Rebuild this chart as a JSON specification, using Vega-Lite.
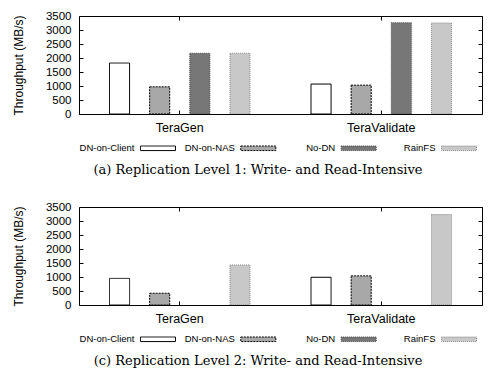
{
  "$schema": "https://vega.github.io/schema/vega-lite/v6.json",
  "padding": {"left": 11, "top": 9, "right": 5, "bottom": 0},
  "background": "white",
  "config": {
    "font": "Liberation Sans",
    "view": {"stroke": "black", "strokeWidth": 1},
    "axis": {"grid": false, "domain": false, "tickColor": "black", "labelColor": "black", "titleColor": "black", "labelFont": "Liberation Sans", "titleFont": "Liberation Sans", "titleFontWeight": "normal"}
  },
  "datasets": {
    "bars": [
      {"panel": "a", "workload": "TeraGen", "series": "DN-on-Client", "value": 1820},
      {"panel": "a", "workload": "TeraGen", "series": "DN-on-NAS", "value": 970},
      {"panel": "a", "workload": "TeraGen", "series": "No-DN", "value": 2170},
      {"panel": "a", "workload": "TeraGen", "series": "RainFS", "value": 2170},
      {"panel": "a", "workload": "TeraValidate", "series": "DN-on-Client", "value": 1070},
      {"panel": "a", "workload": "TeraValidate", "series": "DN-on-NAS", "value": 1030},
      {"panel": "a", "workload": "TeraValidate", "series": "No-DN", "value": 3260},
      {"panel": "a", "workload": "TeraValidate", "series": "RainFS", "value": 3250},
      {"panel": "c", "workload": "TeraGen", "series": "DN-on-Client", "value": 950},
      {"panel": "c", "workload": "TeraGen", "series": "DN-on-NAS", "value": 420},
      {"panel": "c", "workload": "TeraGen", "series": "RainFS", "value": 1430},
      {"panel": "c", "workload": "TeraValidate", "series": "DN-on-Client", "value": 990},
      {"panel": "c", "workload": "TeraValidate", "series": "DN-on-NAS", "value": 1040},
      {"panel": "c", "workload": "TeraValidate", "series": "RainFS", "value": 3230}
    ],
    "legend": [
      {"series": "DN-on-Client"},
      {"series": "DN-on-NAS"},
      {"series": "No-DN"},
      {"series": "RainFS"}
    ],
    "captions": [
      {"panel": "a", "text": "(a) Replication Level 1: Write- and Read-Intensive"},
      {"panel": "c", "text": "(c) Replication Level 2: Write- and Read-Intensive"}
    ]
  },
  "spacing": 24.5,
  "bounds": "flush",
  "resolve": {"scale": {"x": "independent", "y": "independent"}},
  "vconcat": [
    {
      "width": 403, "height": 98,
      "data": {"name": "bars"},
      "transform": [{"filter": "datum.panel === 'a'"}],
      "layer": [
        {
          "mark": {"type": "bar", "strokeWidth": 1, "clip": true},
          "encoding": {
            "x": {"field": "workload", "type": "nominal", "sort": ["TeraGen", "TeraValidate"], "scale": {"paddingInner": 0, "paddingOuter": 0}, "axis": {"orient": "bottom", "title": null, "labelAngle": 0, "labelFontSize": 12.5, "tickSize": -4, "labelPadding": 11}},
            "xOffset": {"field": "series", "type": "nominal", "scale": {"domain": ["DN-on-Client", "DN-on-NAS", "No-DN", "RainFS"], "paddingInner": 0.5, "paddingOuter": 0.76}},
            "y": {"field": "value", "type": "quantitative", "scale": {"domain": [0, 3500], "nice": false}, "axis": {"values": [0, 500, 1000, 1500, 2000, 2500, 3000, 3500], "format": "d", "title": "Throughput (MB/s)", "titleFontSize": 12, "labelFontSize": 11.5, "tickSize": -4, "labelPadding": 12, "titlePadding": 20.4}},
            "fill": {"field": "series", "type": "nominal", "scale": {"domain": ["DN-on-Client", "DN-on-NAS", "No-DN", "RainFS"], "range": ["#ffffff", "#a8a8a8", "#777777", "#c8c8c8"]}, "legend": null},
            "stroke": {"field": "series", "type": "nominal", "scale": {"domain": ["DN-on-Client", "DN-on-NAS", "No-DN", "RainFS"], "range": ["#000000", "#000000", "#444444", "#888888"]}, "legend": null},
            "strokeDash": {"field": "series", "type": "nominal", "scale": {"domain": ["DN-on-Client", "DN-on-NAS", "No-DN", "RainFS"], "range": [[1, 0], [2, 1], [1, 1], [1, 1]]}, "legend": null}
          }
        },
        {
          "mark": {"type": "bar", "opacity": 0, "clip": true},
          "encoding": {
            "x": {"field": "workload", "type": "nominal", "sort": ["TeraGen", "TeraValidate"], "axis": {"orient": "top", "labels": false, "title": null, "tickSize": -4}},
            "y": {"field": "value", "type": "quantitative", "axis": {"orient": "right", "labels": false, "title": null, "tickSize": -4, "values": [0, 500, 1000, 1500, 2000, 2500, 3000, 3500]}}
          }
        }
      ],
      "resolve": {"axis": {"x": "independent", "y": "independent"}}
    },
    {
      "width": 403, "height": 44,
      "view": {"stroke": null},
      "layer": [
        {
          "data": {"name": "legend"},
          "mark": {"type": "point", "shape": "M0,-0.13H2V0.13H0Z", "size": 1225, "filled": true, "opacity": 1, "strokeWidth": 1, "clip": true},
          "encoding": {
            "x": {"field": "series", "type": "nominal", "sort": ["DN-on-Client", "DN-on-NAS", "No-DN", "RainFS"], "scale": {"type": "point", "padding": 0.508, "align": 0.603}, "axis": null},
            "y": {"datum": "legend", "type": "nominal", "scale": {"type": "point", "domain": ["legend", "caption"], "padding": 0.5, "align": 0.445}, "axis": null},
            "fill": {"field": "series", "type": "nominal", "scale": {"domain": ["DN-on-Client", "DN-on-NAS", "No-DN", "RainFS"], "range": ["#ffffff", "#a8a8a8", "#777777", "#c8c8c8"]}, "legend": null},
            "stroke": {"field": "series", "type": "nominal", "scale": {"domain": ["DN-on-Client", "DN-on-NAS", "No-DN", "RainFS"], "range": ["#000000", "#000000", "#444444", "#888888"]}, "legend": null},
            "strokeDash": {"field": "series", "type": "nominal", "scale": {"domain": ["DN-on-Client", "DN-on-NAS", "No-DN", "RainFS"], "range": [[1, 0], [2, 1], [1, 1], [1, 1]]}, "legend": null}
          }
        },
        {
          "data": {"name": "legend"},
          "mark": {"type": "text", "align": "right", "baseline": "middle", "dx": -6, "fontSize": 9.5, "color": "black", "clip": true},
          "encoding": {
            "x": {"field": "series", "type": "nominal", "sort": ["DN-on-Client", "DN-on-NAS", "No-DN", "RainFS"], "axis": null},
            "y": {"datum": "legend", "type": "nominal", "axis": null},
            "text": {"field": "series"}
          }
        },
        {
          "data": {"name": "captions"},
          "transform": [{"filter": "datum.panel === 'a'"}],
          "mark": {"type": "text", "align": "center", "baseline": "middle", "dx": -22.5, "fontSize": 13, "font": "DejaVu Serif", "color": "black", "clip": true},
          "encoding": {
            "y": {"datum": "caption", "type": "nominal", "axis": null},
            "text": {"field": "text"}
          }
        }
      ]
    },
    {
      "width": 403, "height": 98,
      "data": {"name": "bars"},
      "transform": [{"filter": "datum.panel === 'c'"}],
      "layer": [
        {
          "mark": {"type": "bar", "strokeWidth": 1, "clip": true},
          "encoding": {
            "x": {"field": "workload", "type": "nominal", "sort": ["TeraGen", "TeraValidate"], "scale": {"paddingInner": 0, "paddingOuter": 0}, "axis": {"orient": "bottom", "title": null, "labelAngle": 0, "labelFontSize": 12.5, "tickSize": -4, "labelPadding": 11}},
            "xOffset": {"field": "series", "type": "nominal", "scale": {"domain": ["DN-on-Client", "DN-on-NAS", "No-DN", "RainFS"], "paddingInner": 0.5, "paddingOuter": 0.76}},
            "y": {"field": "value", "type": "quantitative", "scale": {"domain": [0, 3500], "nice": false}, "axis": {"values": [0, 500, 1000, 1500, 2000, 2500, 3000, 3500], "format": "d", "title": "Throughput (MB/s)", "titleFontSize": 12, "labelFontSize": 11.5, "tickSize": -4, "labelPadding": 12, "titlePadding": 20.4}},
            "fill": {"field": "series", "type": "nominal", "scale": {"domain": ["DN-on-Client", "DN-on-NAS", "No-DN", "RainFS"], "range": ["#ffffff", "#a8a8a8", "#777777", "#c8c8c8"]}, "legend": null},
            "stroke": {"field": "series", "type": "nominal", "scale": {"domain": ["DN-on-Client", "DN-on-NAS", "No-DN", "RainFS"], "range": ["#000000", "#000000", "#444444", "#888888"]}, "legend": null},
            "strokeDash": {"field": "series", "type": "nominal", "scale": {"domain": ["DN-on-Client", "DN-on-NAS", "No-DN", "RainFS"], "range": [[1, 0], [2, 1], [1, 1], [1, 1]]}, "legend": null}
          }
        },
        {
          "mark": {"type": "bar", "opacity": 0, "clip": true},
          "encoding": {
            "x": {"field": "workload", "type": "nominal", "sort": ["TeraGen", "TeraValidate"], "axis": {"orient": "top", "labels": false, "title": null, "tickSize": -4}},
            "y": {"field": "value", "type": "quantitative", "axis": {"orient": "right", "labels": false, "title": null, "tickSize": -4, "values": [0, 500, 1000, 1500, 2000, 2500, 3000, 3500]}}
          }
        }
      ],
      "resolve": {"axis": {"x": "independent", "y": "independent"}}
    },
    {
      "width": 403, "height": 44,
      "view": {"stroke": null},
      "layer": [
        {
          "data": {"name": "legend"},
          "mark": {"type": "point", "shape": "M0,-0.13H2V0.13H0Z", "size": 1225, "filled": true, "opacity": 1, "strokeWidth": 1, "clip": true},
          "encoding": {
            "x": {"field": "series", "type": "nominal", "sort": ["DN-on-Client", "DN-on-NAS", "No-DN", "RainFS"], "scale": {"type": "point", "padding": 0.508, "align": 0.603}, "axis": null},
            "y": {"datum": "legend", "type": "nominal", "scale": {"type": "point", "domain": ["legend", "caption"], "padding": 0.5, "align": 0.445}, "axis": null},
            "fill": {"field": "series", "type": "nominal", "scale": {"domain": ["DN-on-Client", "DN-on-NAS", "No-DN", "RainFS"], "range": ["#ffffff", "#a8a8a8", "#777777", "#c8c8c8"]}, "legend": null},
            "stroke": {"field": "series", "type": "nominal", "scale": {"domain": ["DN-on-Client", "DN-on-NAS", "No-DN", "RainFS"], "range": ["#000000", "#000000", "#444444", "#888888"]}, "legend": null},
            "strokeDash": {"field": "series", "type": "nominal", "scale": {"domain": ["DN-on-Client", "DN-on-NAS", "No-DN", "RainFS"], "range": [[1, 0], [2, 1], [1, 1], [1, 1]]}, "legend": null}
          }
        },
        {
          "data": {"name": "legend"},
          "mark": {"type": "text", "align": "right", "baseline": "middle", "dx": -6, "fontSize": 9.5, "color": "black", "clip": true},
          "encoding": {
            "x": {"field": "series", "type": "nominal", "sort": ["DN-on-Client", "DN-on-NAS", "No-DN", "RainFS"], "axis": null},
            "y": {"datum": "legend", "type": "nominal", "axis": null},
            "text": {"field": "series"}
          }
        },
        {
          "data": {"name": "captions"},
          "transform": [{"filter": "datum.panel === 'c'"}],
          "mark": {"type": "text", "align": "center", "baseline": "middle", "dx": -22.5, "fontSize": 13, "font": "DejaVu Serif", "color": "black", "clip": true},
          "encoding": {
            "y": {"datum": "caption", "type": "nominal", "axis": null},
            "text": {"field": "text"}
          }
        }
      ]
    }
  ]
}
